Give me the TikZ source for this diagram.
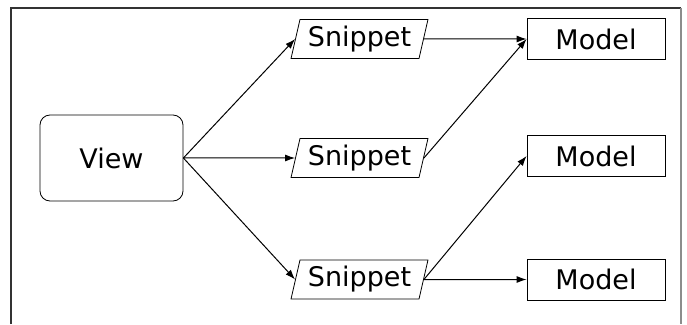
\documentclass[tikz,border=0pt]{standalone}
\usepackage{fontspec}
\setmainfont{DejaVu Sans}
\usetikzlibrary{arrows.meta}
\usetikzlibrary{shapes.geometric}

\begin{document}
\begin{tikzpicture}[x=1pt,y=1pt,->,>={Latex[length=10pt,width=7pt]},
                line width=1pt,node distance=248pt,
                font=\fontsize{27}{32}\selectfont,
                view node/.style={rectangle,rounded corners=10pt,draw,line width=0.8pt,
                  minimum width=143pt,minimum height=86pt},
                snippet node/.style={trapezium,trapezium left angle=75,trapezium right angle=105,
                  trapezium stretches=true,draw,line width=0.8pt,
                  minimum width=137pt,minimum height=39pt,inner sep=2pt},
                model node/.style={rectangle,draw,line width=0.8pt,
                  minimum width=138pt,minimum height=41pt,inner sep=2pt}]

  \useasboundingbox (0,0) rectangle (687,324);
  % outer frame, open at the bottom
  \draw[-,black!80,line width=1.3pt] (11,0) -- (11,316) -- (681,316);
  \draw[-,black!45,line width=1.3pt] (681,316) -- (681,0);

  \node[view node] (view) at (111.5,166) {View};
  \node[snippet node] (s2) [right of=view] {Snippet};
  \node[snippet node] (s1) [above of=s2,node distance=119pt] {Snippet};
  \node[snippet node] (s3) [below of=s2,node distance=121.5pt] {Snippet};
  \node[model node] (m1) [right of=s1,node distance=236.5pt] {Model};
  \node[model node] (m2) [right of=s2,node distance=236.5pt,yshift=2pt] {Model};
  \node[model node] (m3) [right of=s3,node distance=236.5pt] {Model};

  \path
    (view.east) edge (s1.west)
                edge (s2.west)
                edge (s3.west)
    (s1.east) edge (m1.west)
    (s2.east) edge (m1.west)
    (s3.east) edge (m2.west)
              edge (m3.west);
\end{tikzpicture}
\end{document}
